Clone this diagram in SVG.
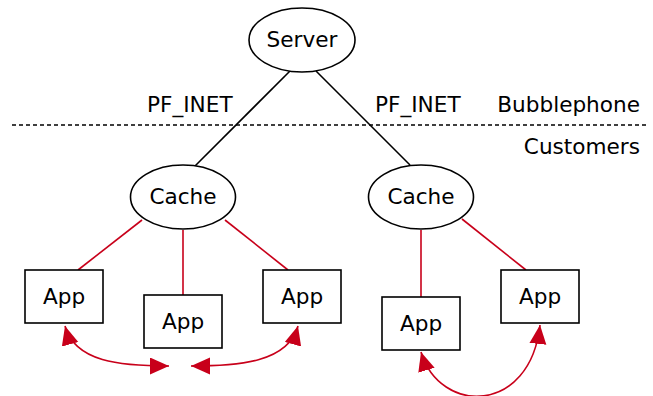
<svg xmlns="http://www.w3.org/2000/svg" width="653" height="396" viewBox="0 0 653 396">
<style>
text{font-family:"DejaVu Sans",Verdana,sans-serif;font-size:21.6px;fill:#000}
.c{text-anchor:middle}
.node{fill:#fff;stroke:#000;stroke-width:1.6}
.blk{stroke:#000;stroke-width:1.6;fill:none}
.red{stroke:#c8001a;stroke-width:1.6;fill:none}
</style>
<defs>
<marker id="ah" markerUnits="userSpaceOnUse" markerWidth="20" markerHeight="18" refX="19" refY="8.5" orient="auto-start-reverse" viewBox="0 0 20 18">
<path d="M0,0 L19,8.5 L0,17 z" fill="#c8001a"/>
</marker>
</defs>
<g id="connectors">
<line class="blk" x1="290" y1="71" x2="195" y2="166"/>
<line class="blk" x1="316" y1="71" x2="410" y2="165"/>
<line class="red" x1="142" y1="220" x2="78" y2="270"/>
<line class="red" x1="183" y1="230" x2="183" y2="295"/>
<line class="red" x1="225" y1="220" x2="288" y2="270"/>
<line class="red" x1="421" y1="230" x2="421" y2="297"/>
<line class="red" x1="462" y1="219" x2="526" y2="270"/>
<path class="red" d="M65,326 C75,362 120,366 169,366" marker-start="url(#ah)" marker-end="url(#ah)"/>
<path class="red" d="M191,366 C240,366 288,362 298,326" marker-start="url(#ah)" marker-end="url(#ah)"/>
<path class="red" d="M421,352 C440,415 530,415 540,325" marker-start="url(#ah)" marker-end="url(#ah)"/>
</g>
<g id="divider">
<line x1="12" y1="125" x2="647" y2="125" stroke="#000" stroke-width="1.6" stroke-dasharray="4,3"/>
<text x="147" y="112">PF_INET</text>
<text x="375" y="112">PF_INET</text>
<text x="640" y="112" text-anchor="end">Bubblephone</text>
<text x="640" y="154" text-anchor="end">Customers</text>
</g>
<g id="server"><ellipse class="node" cx="302" cy="40" rx="53" ry="32"/><text class="c" x="302" y="47">Server</text></g>
<g id="cache1"><ellipse class="node" cx="183" cy="197" rx="52.5" ry="32"/><text class="c" x="183" y="204">Cache</text></g>
<g id="cache2"><ellipse class="node" cx="421" cy="197" rx="52.5" ry="32"/><text class="c" x="421" y="204">Cache</text></g>
<g id="app1"><rect class="node" x="25" y="270" width="78" height="53"/><text class="c" x="64" y="304">App</text></g>
<g id="app2"><rect class="node" x="144" y="295" width="78" height="53"/><text class="c" x="183" y="329">App</text></g>
<g id="app3"><rect class="node" x="263" y="270" width="78" height="53"/><text class="c" x="302" y="304">App</text></g>
<g id="app4"><rect class="node" x="382" y="297" width="78" height="53"/><text class="c" x="421" y="331">App</text></g>
<g id="app5"><rect class="node" x="501" y="270" width="78" height="53"/><text class="c" x="540" y="304">App</text></g>
</svg>
